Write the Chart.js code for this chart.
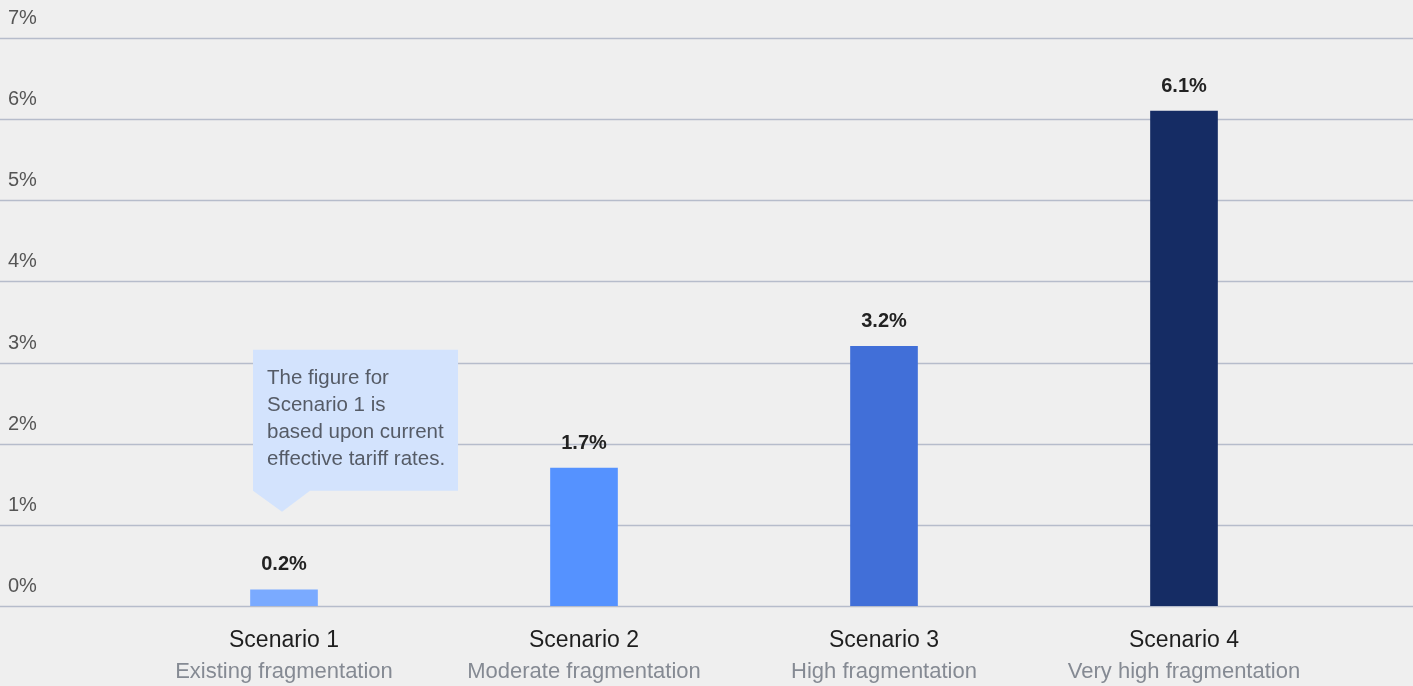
<!DOCTYPE html>
<html>
<head>
<meta charset="utf-8">
<script src="https://cdn.jsdelivr.net/npm/chart.js@4"></script>
<style>
  html, body { margin: 0; padding: 0; background: #efefef; }
  #wrap { width: 1413px; height: 686px; position: relative; }
</style>
</head>
<body>
<div id="wrap"><canvas id="chart"></canvas></div>
<script>
const scenarios = ['Scenario 1', 'Scenario 2', 'Scenario 3', 'Scenario 4']
const descriptions = ['Existing fragmentation', 'Moderate fragmentation', 'High fragmentation', 'Very high fragmentation']
const values = [0.2, 1.7, 3.2, 6.1]
const barColors = ['#7aaaff', '#5592ff', '#416fd8', '#152c64']
const yTicks = [0, 1, 2, 3, 4, 5, 6, 7]
const noteLines = ['The figure for', 'Scenario 1 is', 'based upon current', 'effective tariff rates.']

const FONT = '"Liberation Sans", Arial, Helvetica, sans-serif'

// gridlines + y labels drawn across the full width
const gridPlugin = {
    id: 'fullGrid',
    beforeDatasetsDraw(chart) {
        const ctx = chart.ctx
        const y = chart.scales.y
        ctx.save()
        yTicks.forEach(t => {
            const py = Math.round(y.getPixelForValue(t)) + 0.5
            ctx.strokeStyle = '#b6bccb'
            ctx.lineWidth = 1.3
            ctx.beginPath()
            ctx.moveTo(0, py)
            ctx.lineTo(chart.width, py)
            ctx.stroke()
            ctx.fillStyle = '#555555'
            ctx.font = '20px ' + FONT
            ctx.textAlign = 'left'
            ctx.textBaseline = 'middle'
            ctx.fillText(t + '%', 8, py - 20)
        })
        ctx.restore()
    }
}

// value labels and the note callout
const labelPlugin = {
    id: 'valueLabels',
    afterDatasetsDraw(chart) {
        const ctx = chart.ctx
        const bars = chart.getDatasetMeta(0).data
        ctx.save()
        ctx.fillStyle = '#222222'
        ctx.font = 'bold 20px ' + FONT
        ctx.textAlign = 'center'
        ctx.textBaseline = 'middle'
        bars.forEach((bar, i) => {
            ctx.fillText(values[i].toFixed(1) + '%', bar.x, bar.y - 25)
        })

        // callout for scenario 1
        const b = bars[0]
        const tipX = b.x - 2
        const tipY = b.y - 78
        const left = b.x - 31
        const bottom = tipY - 21
        const top = bottom - 141
        const right = left + 205
        ctx.fillStyle = '#d3e3fd'
        ctx.beginPath()
        ctx.moveTo(left, top)
        ctx.lineTo(right, top)
        ctx.lineTo(right, bottom)
        ctx.lineTo(left + 57, bottom)
        ctx.lineTo(tipX, tipY)
        ctx.lineTo(left, bottom)
        ctx.closePath()
        ctx.fill()
        ctx.fillStyle = '#555b66'
        ctx.font = '20.5px ' + FONT
        ctx.textAlign = 'left'
        noteLines.forEach((line, i) => {
            ctx.fillText(line, left + 14, top + 29 + i * 26.7)
        })
        ctx.restore()
    }
}

new Chart(document.querySelector('#chart').getContext('2d'), {
    type: 'bar',
    data: {
        labels: scenarios,
        datasets: [{
            data: values,
            backgroundColor: barColors,
            barThickness: 67
        }]
    },
    options: {
        responsive: true,
        maintainAspectRatio: false,
        animation: false,
        layout: { padding: { left: 134, right: 79, top: 38, bottom: 0 } },
        plugins: { legend: { display: false }, tooltip: { enabled: false } },
        scales: {
            y: {
                display: false,
                min: 0,
                max: 7,
                ticks: { stepSize: 1 }
            },
            x: {
                position: 'bottom',
                grid: { display: false, drawTicks: false },
                border: { display: false },
                ticks: {
                    color: '#1e1e1e',
                    font: { family: FONT, size: 23 },
                    padding: 21,
                    maxRotation: 0,
                    autoSkip: false
                },
                afterFit(scale) { scale.height = 50 }
            },
            x2: {
                type: 'category',
                labels: descriptions,
                position: 'bottom',
                grid: { display: false, drawTicks: false },
                border: { display: false },
                ticks: {
                    color: '#858a93',
                    font: { family: FONT, size: 22 },
                    padding: 3,
                    maxRotation: 0,
                    autoSkip: false
                },
                afterFit(scale) { scale.height = 30 }
            }
        }
    },
    plugins: [gridPlugin, labelPlugin]
})
</script>
</body>
</html>
